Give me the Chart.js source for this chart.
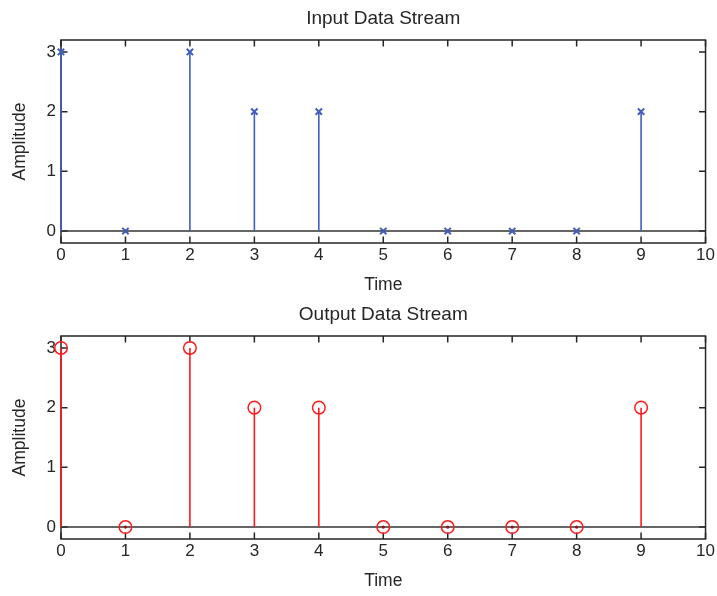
<!DOCTYPE html>
<html>
<head>
<meta charset="utf-8">
<script src="https://cdn.jsdelivr.net/npm/chart.js@4/dist/chart.umd.min.js"></script>
<style>
  html, body { margin: 0; padding: 0; background: #fff; }
  .panel { position: absolute; left: 0; width: 717px; height: 296px; }
  #top { top: 0; }
  #bottom { top: 296px; }
</style>
</head>
<body>
<div class="panel" id="top"><canvas id="inputChart" width="717" height="296"></canvas></div>
<div class="panel" id="bottom"><canvas id="outputChart" width="717" height="296"></canvas></div>
<script>
// Sample times and amplitudes (same for both streams)
const timeSteps = [0, 1, 2, 3, 4, 5, 6, 7, 8, 9];
const inputValues = [3, 0, 3, 2, 2, 0, 0, 0, 0, 2];
const outputValues = [3, 0, 3, 2, 2, 0, 0, 0, 0, 2];

// Axis ticks
const xTicks = [0, 1, 2, 3, 4, 5, 6, 7, 8, 9, 10];
const yTicks = [0, 1, 2, 3];

const AXIS_COLOR = '#262626';
const FONT = "'Liberation Sans', Arial, Helvetica, sans-serif";

// Draws the MATLAB-style box, inward ticks, baseline and stems
const stemPlugin = {
  id: 'stems',
  beforeDatasetsDraw(chart) {
    const ctx = chart.ctx;
    const area = chart.chartArea;
    const xs = chart.scales.x;
    const ys = chart.scales.y;
    const tick = 6.5;

    ctx.save();
    // box
    ctx.strokeStyle = AXIS_COLOR;
    ctx.lineWidth = 1.5;
    ctx.strokeRect(area.left, area.top, area.right - area.left, area.bottom - area.top);

    // inward ticks on all four sides
    ctx.beginPath();
    xTicks.forEach(v => {
      const px = xs.getPixelForValue(v);
      ctx.moveTo(px, area.bottom);
      ctx.lineTo(px, area.bottom - tick);
      ctx.moveTo(px, area.top);
      ctx.lineTo(px, area.top + tick);
    });
    yTicks.forEach(v => {
      const py = ys.getPixelForValue(v);
      ctx.moveTo(area.left, py);
      ctx.lineTo(area.left + tick, py);
      ctx.moveTo(area.right, py);
      ctx.lineTo(area.right - tick, py);
    });
    ctx.stroke();

    // baseline at zero
    const y0 = ys.getPixelForValue(0);
    ctx.strokeStyle = '#333333';
    ctx.lineWidth = 1.5;
    ctx.beginPath();
    ctx.moveTo(area.left, y0);
    ctx.lineTo(area.right, y0);
    ctx.stroke();

    // stems
    const opts = chart.options.plugins.stems;
    const ds = chart.data.datasets[0];
    ctx.strokeStyle = opts.color;
    ctx.fillStyle = opts.dotColor;
    ctx.lineWidth = 1.6;
    ds.data.forEach(p => {
      const px = xs.getPixelForValue(p.x);
      if (p.y === 0) {
        // zero-length stem shows up as a small dot on the baseline
        ctx.beginPath();
        ctx.arc(px, y0, 1.6, 0, Math.PI * 2);
        ctx.fill();
        return;
      }
      ctx.beginPath();
      ctx.moveTo(px, y0);
      ctx.lineTo(px, ys.getPixelForValue(p.y));
      ctx.stroke();
    });
    ctx.restore();
  }
};

function makeStemChart(canvasId, titleText, values, color, dotColor, pointStyle, radius) {
  const ctx = document.getElementById(canvasId).getContext('2d');
  return new Chart(ctx, {
    type: 'scatter',
    data: {
      datasets: [{
        data: timeSteps.map((t, i) => ({ x: t, y: values[i] })),
        pointStyle: pointStyle,
        radius: radius,
        borderColor: color,
        backgroundColor: 'rgba(0,0,0,0)',
        borderWidth: pointStyle === 'crossRot' ? 2 : 1.5,
        clip: false
      }]
    },
    options: {
      responsive: false,
      animation: false,
      layout: { padding: { left: 0, right: 11, top: 0, bottom: 0 } },
      plugins: {
        legend: { display: false },
        tooltip: { enabled: false },
        title: {
          display: true,
          fullSize: false,
          text: titleText,
          color: AXIS_COLOR,
          font: { family: FONT, size: 19, weight: 'normal', lineHeight: 1.2 },
          padding: { top: 7, bottom: 10.2 }
        },
        stems: { color: color, dotColor: dotColor }
      },
      scales: {
        x: {
          type: 'linear',
          min: 0,
          max: 10,
          grid: { display: false, drawTicks: false },
          border: { display: false },
          afterBuildTicks: scale => { scale.ticks = xTicks.map(v => ({ value: v })); },
          afterFit: scale => { scale.height = 53; },
          ticks: {
            color: AXIS_COLOR,
            padding: 2,
            maxRotation: 0,
            font: { family: FONT, size: 17 }
          },
          title: {
            display: true,
            text: 'Time',
            color: AXIS_COLOR,
            font: { family: FONT, size: 17.5 },
            padding: { top: 0, bottom: 0 }
          }
        },
        y: {
          type: 'linear',
          min: -0.2,
          max: 3.2,
          grid: { display: false, drawTicks: false },
          border: { display: false },
          afterBuildTicks: scale => { scale.ticks = yTicks.map(v => ({ value: v })); },
          afterFit: scale => { scale.width = 61; },
          ticks: {
            color: AXIS_COLOR,
            padding: 5,
            font: { family: FONT, size: 17 }
          },
          title: {
            display: true,
            text: 'Amplitude',
            color: AXIS_COLOR,
            font: { family: FONT, size: 17.5 },
            padding: { top: 10, bottom: 0 }
          }
        }
      }
    },
    plugins: [stemPlugin]
  });
}

makeStemChart('inputChart', 'Input Data Stream', inputValues, '#3f5fbf', '#2a3f80', 'crossRot', 4.5);
makeStemChart('outputChart', 'Output Data Stream', outputValues, '#ff1a1a', '#a01010', 'circle', 6.3);
</script>
</body>
</html>
